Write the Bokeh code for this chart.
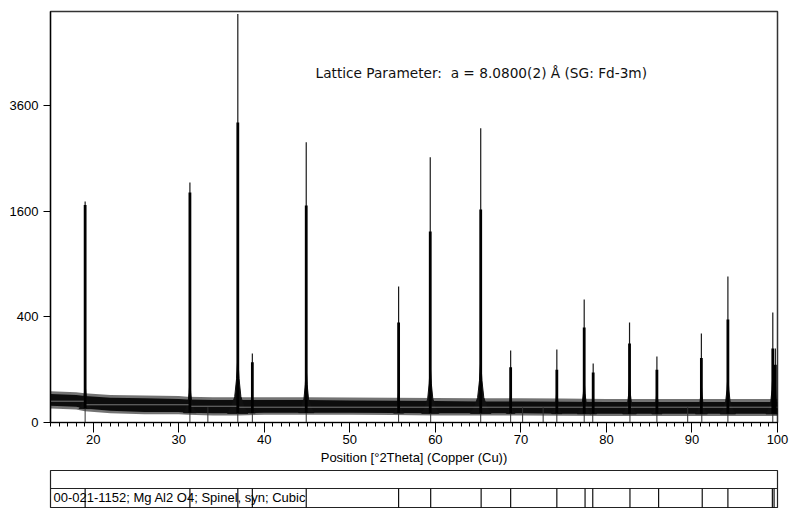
import numpy as np
from bokeh.plotting import figure
from bokeh.layouts import column
from bokeh.models import FixedTicker, Range1d, Label
from bokeh.embed import file_html
from bokeh.resources import INLINE
from bokeh.core.properties import value

# ---------------- data ----------------
# background noise: dense core envelope and extent of the spikes (counts)
bg_x = [15, 18, 19, 22, 26, 30, 31, 34, 37, 40, 45, 50, 55, 60, 65, 70, 75, 80, 85, 90, 95, 100]
bg_upper = [29, 27, 25, 22, 21, 20, 19, 18, 18, 18, 18, 17.5, 17, 16.5, 16, 16, 15.5, 15, 15, 15, 15, 15]
bg_lower = [10, 9, 7, 5, 4, 4, 3.5, 3, 3, 3.5, 3.5, 3.5, 3.2, 3, 3, 3, 2.8, 2.7, 2.7, 2.7, 2.7, 2.7]
spike_upper = [35, 33, 31, 27, 26, 25, 24, 23, 23, 23, 23, 22.5, 22, 21.5, 21, 21, 20.5, 20, 20, 20, 20, 20]
spike_lower = [7, 6, 4.5, 3, 2.5, 2.5, 2.2, 1.8, 1.8, 2.2, 2.2, 2.2, 2, 1.8, 1.8, 1.8, 1.6, 1.5, 1.5, 1.5, 1.5, 1.5]

# fitted background line (counts), stepwise
bgline_x = [15, 19.05, 31.3, 36.9, 100]
bgline_y = [16.3, 11.3, 9.5, 8.4, 8.4]

# observed peaks: position (deg 2theta), tip intensity, main body intensity,
# broadened foot intensity, foot half-width (deg)
peak_pos = [19.05, 31.30, 36.90, 38.60, 44.90, 55.70, 59.40, 65.30, 68.80, 74.20,
            77.40, 78.45, 82.70, 85.90, 91.10, 94.20, 99.45, 99.75]
peak_tip = [1755, 2070, 6000, 171, 2823, 665, 2530, 3113, 186, 192,
            544, 125, 359, 157, 285, 766, 435, 197]
peak_body = [1700, 1900, 3235, 130, 1692, 359, 1311, 1630, 110, 100,
             324, 90, 224, 100, 150, 381, 197, 120]
peak_foot = [55, 63, 152, 26, 109, 35, 120, 138, 30, 40,
             63, 30, 60, 40, 50, 80, 80, 60]
peak_halfwidth = [0.7, 0.75, 1.2, 0.35, 0.9, 0.6, 1.0, 1.2, 0.5, 0.6,
                  0.8, 0.4, 0.8, 0.6, 0.7, 0.9, 0.8, 0.4]

# peak-list markers in the pattern view
stick_pos = [19.05, 31.30, 33.40, 36.90, 38.60, 44.90, 55.70, 59.45, 65.30, 68.80,
             70.20, 72.60, 74.20, 77.40, 78.40, 82.75, 85.90, 89.50, 91.15, 94.20, 99.45]
stick_height = 8.4

# reference pattern 00-021-1152 (Mg Al2 O4, spinel) lines
ref_pos = [19.05, 31.30, 36.90, 38.60, 44.90, 55.70, 59.45, 65.35, 68.80, 74.20,
           77.50, 78.40, 82.75, 86.10, 91.20, 94.20, 99.40, 99.60]
ref_label = "00-021-1152; Mg Al2 O4; Spinel, syn; Cubic"

x_ticks = [20, 30, 40, 50, 60, 70, 80, 90, 100]
y_tick_counts = [0, 400, 1600, 3600]
y_max_counts = 6070
annotation = "Lattice Parameter:\u00a0\u00a0a = 8.0800(2) \u00c5 (SG: Fd-3m)"
x_title = "Position [\u00b02Theta] (Copper (Cu))"

# ---------------- figure (square-root intensity scale) ----------------
sq = np.sqrt
p = figure(frame_width=727, frame_height=411,
           x_range=Range1d(15, 100), y_range=Range1d(0, sq(y_max_counts)),
           output_backend="svg", toolbar_location=None,
           min_border_left=50, min_border_right=12, min_border_top=11, min_border_bottom=46,
           background_fill_color="white", border_fill_color="white")
p.grid.visible = False
p.outline_line_color = "#333333"
p.outline_line_width = 1.5

# noise: spike fringe and dense core
p.varea(x=bg_x, y1=sq(np.array(spike_lower)), y2=sq(np.array(spike_upper)),
        fill_color="#000000", fill_alpha=0.55)
p.varea(x=bg_x, y1=sq(np.array(bg_lower)), y2=sq(np.array(bg_upper)),
        fill_color="#0d0d0d")

# peak feet
shape_dx = np.array([-1, -0.6, -0.3, -0.12, 0, 0.12, 0.3, 0.6, 1])
shape_dy = np.array([0, 0.12, 0.3, 0.62, 1, 0.62, 0.3, 0.12, 0])
xs, ys = [], []
for pos, foot, hw in zip(peak_pos, peak_foot, peak_halfwidth):
    base = sq(np.interp(pos, bg_x, bg_lower))
    xs.append(list(pos + hw * shape_dx))
    ys.append(list(base + (sq(foot) - base) * shape_dy))
p.patches(xs, ys, fill_color="#111111", line_color="#111111", line_width=1)

# fitted background line
p.step(bgline_x, sq(np.array(bgline_y)), mode="after", line_color="#777777", line_width=1)

# peak list sticks
p.segment(x0=stick_pos, y0=[0] * len(stick_pos), x1=stick_pos,
          y1=[sq(stick_height)] * len(stick_pos), line_color="#333333", line_width=1)

# peak bodies and tips
base_vals = [sq(np.interp(x, bg_x, bg_lower)) for x in peak_pos]
p.segment(x0=peak_pos, y0=base_vals, x1=peak_pos, y1=sq(np.array(peak_tip)),
          line_color="#1a1a1a", line_width=1.2)
p.segment(x0=peak_pos, y0=base_vals, x1=peak_pos, y1=sq(np.array(peak_body)),
          line_color="#000000", line_width=2.8)

# axes
font = "Liberation Sans"
p.xaxis.ticker = FixedTicker(ticks=x_ticks, minor_ticks=list(range(15, 101)))
p.xaxis.axis_label = x_title
p.xaxis.axis_label_text_font = font
p.xaxis.axis_label_text_font_size = "13px"
p.xaxis.axis_label_text_font_style = "normal"
p.xaxis.axis_label_text_color = "black"
p.xaxis.axis_label_standoff = 3
p.xaxis.major_tick_out = 10
p.xaxis.major_tick_in = 0
p.xaxis.minor_tick_out = 4
p.xaxis.minor_tick_in = 0
p.xaxis.major_label_standoff = 2

p.yaxis.ticker = FixedTicker(ticks=[float(sq(v)) for v in y_tick_counts])
p.yaxis.major_label_overrides = {float(sq(v)): str(v) for v in y_tick_counts}
p.yaxis.major_tick_out = 7
p.yaxis.major_tick_in = 0
p.yaxis.minor_tick_line_color = None
p.yaxis.major_label_standoff = 5

for ax in (p.xaxis[0], p.yaxis[0]):
    ax.major_label_text_font = font
    ax.major_label_text_font_size = "13px"
    ax.major_label_text_color = "black"
    ax.axis_line_color = "black"
    ax.major_tick_line_color = "black"
    ax.axis_line_width = 1.2
p.xaxis.minor_tick_line_color = "black"

p.add_layout(Label(x=265, y=350, x_units="screen", y_units="screen", text=annotation,
                   text_font="DejaVu Sans", text_font_size="13.7px", text_color="#111111",
                   text_baseline="middle"))

# ---------------- reference pattern strip ----------------
q = figure(frame_width=727, frame_height=38, x_range=Range1d(15, 100), y_range=Range1d(0, 38),
           output_backend="svg", toolbar_location=None,
           x_axis_location=None, y_axis_location=None,
           min_border_left=50, min_border_right=12, min_border_top=2, min_border_bottom=0)
q.grid.visible = False
q.outline_line_color = "#222222"
q.outline_line_width = 1.2
q.segment(x0=[15], y0=[20], x1=[100], y1=[20], line_color="#222222", line_width=1.2)
q.segment(x0=ref_pos, y0=[0] * len(ref_pos), x1=ref_pos, y1=[20] * len(ref_pos),
          line_color="#111111", line_width=1.2)
q.text(x=[15.35], y=[11], text=[ref_label], text_font=value(font), text_font_size="13px",
       text_baseline="middle", text_color="black")

layout = column(p, q, spacing=0)
open("out.html", "w").write(file_html(layout, INLINE))
